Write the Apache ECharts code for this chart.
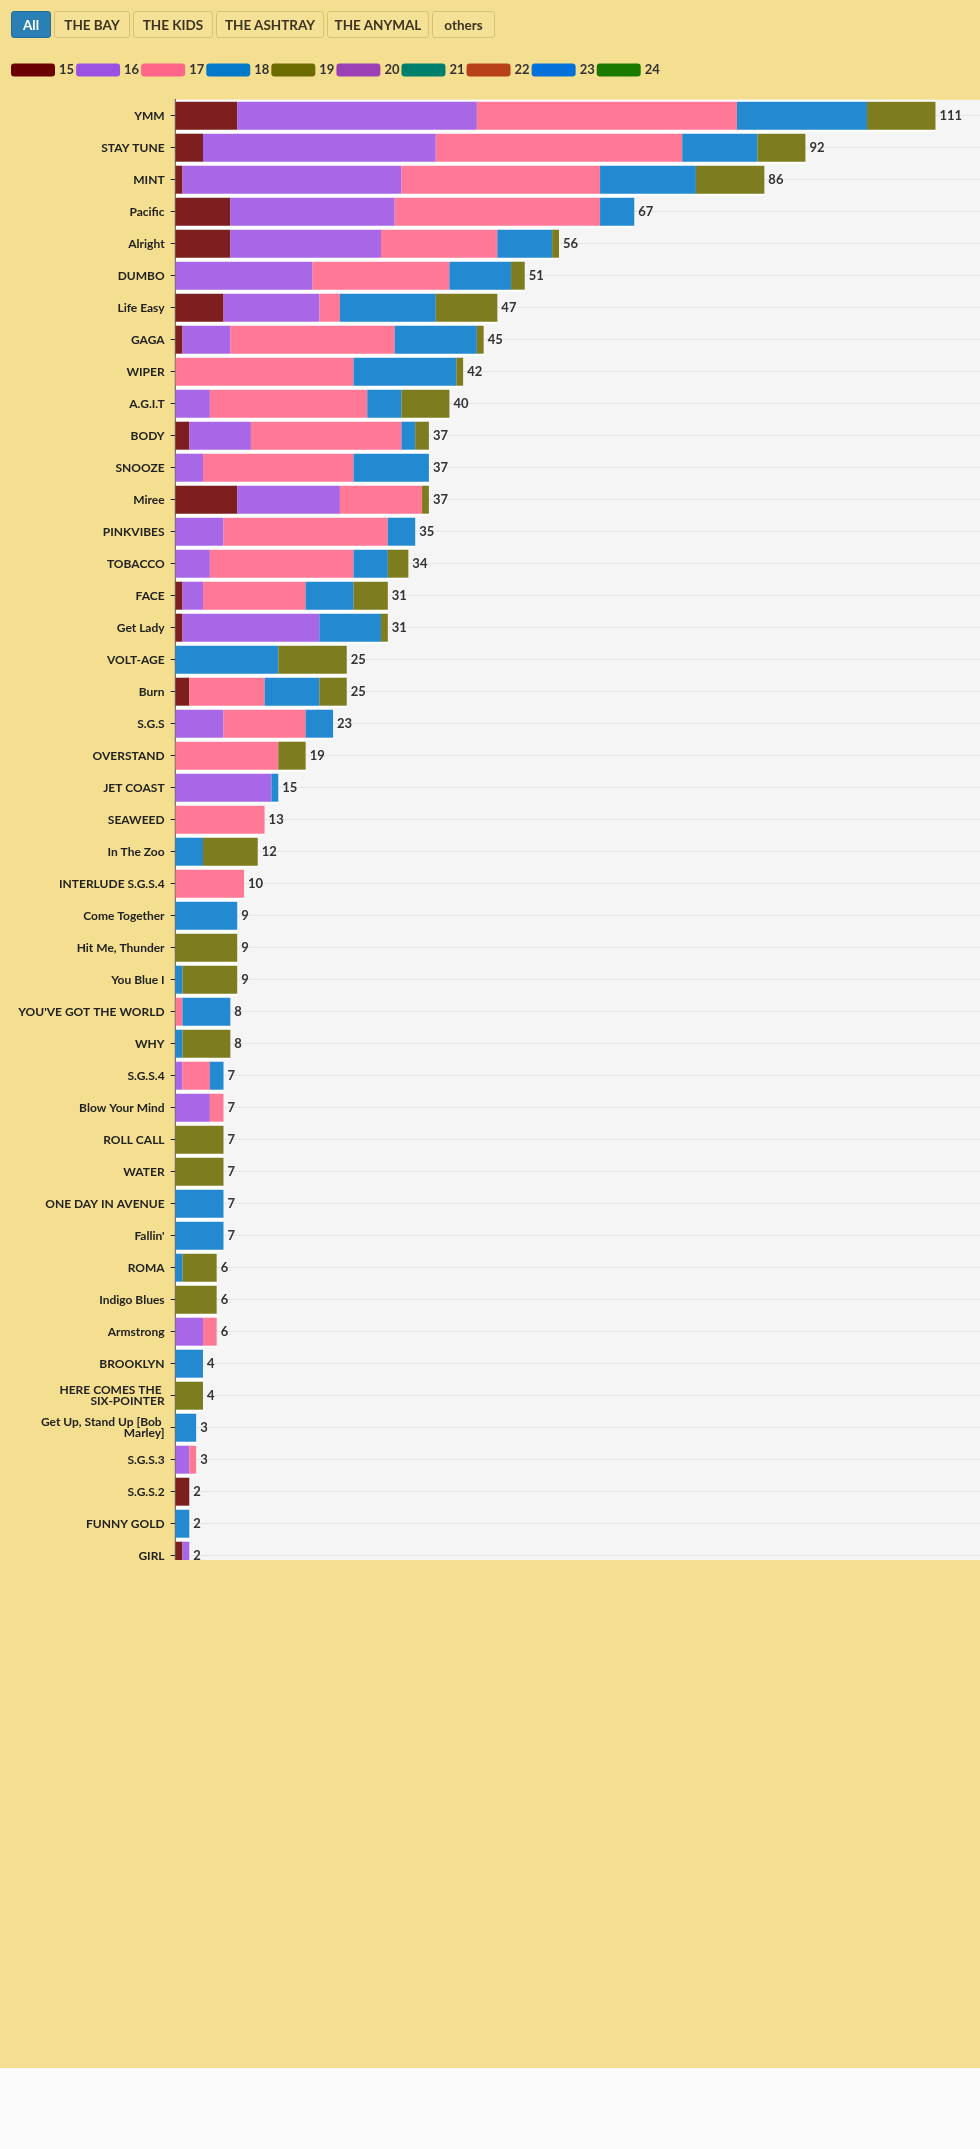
<!DOCTYPE html>
<html>
<head>
<meta charset="utf-8">
<script src="https://cdn.jsdelivr.net/npm/echarts@6/dist/echarts.min.js"></script>
<style>
	body { margin: 0; background: #fafafa; }
	#page { position: relative; width: 980px; height: 2068px; background: #f4de90; }
	#chart { position: absolute; left: 0; top: 0; width: 980px; height: 1560px; }
	#btns { position: absolute; left: 11px; top: 11px; font-size: 0; }
	.btn {
		display: inline-flex; align-items: center; justify-content: center;
		box-sizing: border-box; height: 27px;
		margin-right: 3px; border: 1px solid #d8c27a; border-radius: 3px;
		background: #f5e196; color: #3b3222;
		font: bold 13.5px Lato, sans-serif;
	}
	.btn.on { background: #2a80b5; border-color: #236d9c; color: #fff; }
</style>
</head>
<body>
<div id="page">
	<div id="chart"></div>
	<div id="btns">
		<span class="btn on" style="width:40px">All</span><span class="btn" style="width:76px">THE BAY</span><span class="btn" style="width:80px">THE KIDS</span><span class="btn" style="width:108px">THE ASHTRAY</span><span class="btn" style="width:102px">THE ANYMAL</span><span class="btn" style="width:63px">others</span>
	</div>
</div>
<script>
var songs = ['YMM','STAY TUNE','MINT','Pacific','Alright','DUMBO','Life Easy','GAGA','WIPER','A.G.I.T',
	'BODY','SNOOZE','Miree','PINKVIBES','TOBACCO','FACE','Get Lady','VOLT-AGE','Burn','S.G.S',
	'OVERSTAND','JET COAST','SEAWEED','In The Zoo','INTERLUDE S.G.S.4','Come Together','Hit Me, Thunder','You Blue I',"YOU'VE GOT THE WORLD",'WHY',
	'S.G.S.4','Blow Your Mind','ROLL CALL','WATER','ONE DAY IN AVENUE',"Fallin'",'ROMA','Indigo Blues','Armstrong','BROOKLYN',
	'HERE COMES THE SIX-POINTER','Get Up, Stand Up [Bob Marley]','S.G.S.3','S.G.S.2','FUNNY GOLD','GIRL'];

var years = ['15','16','17','18','19','20','21','22','23','24'];
var yearColors = ['#6b0000','#9b52e2','#ff6687','#0479c9','#6b6b00','#9c40b6','#00806c','#b8411a','#0470da','#1a7a00'];

var v15 = [9,4,1,8,8,0,7,1,0,0, 2,0,9,0,0,1,1,0,2,0, 0,0,0,0,0,0,0,0,0,0, 0,0,0,0,0,0,0,0,0,0, 0,0,0,2,0,1];
var v16 = [35,34,32,24,22,20,14,7,0,5, 9,4,15,7,5,3,20,0,0,7, 0,14,0,0,0,0,0,0,0,0, 1,5,0,0,0,0,0,0,4,0, 0,0,2,0,0,1];
var v17 = [38,36,29,30,17,20,3,24,26,23, 22,22,12,24,21,15,0,0,11,12, 15,0,13,0,10,0,0,0,1,0, 4,2,0,0,0,0,0,0,2,0, 0,0,1,0,0,0];
var v18 = [19,11,14,5,8,9,14,12,15,5, 2,11,0,4,5,7,9,15,8,4, 0,1,0,4,0,9,0,1,7,1, 2,0,0,0,7,7,1,0,0,4, 0,3,0,0,2,0];
var v19 = [10,7,10,0,1,2,9,1,1,7, 2,0,1,0,3,5,1,10,4,0, 4,0,0,8,0,0,9,8,0,7, 0,0,7,7,0,0,5,6,0,0, 4,0,0,0,0,0];
var v20 = [], v21 = [], v22 = [], v23 = [], v24 = [];

var yearValues = [v15,v16,v17,v18,v19,v20,v21,v22,v23,v24];

var totals = songs.map(function(s, i){
	var t = 0;
	for (var k = 0; k < yearValues.length; k++) {
		t += yearValues[k][i] || 0;
	}
	return t;
});

var chart = echarts.init(document.getElementById('chart'));
var fontFam = 'Lato, sans-serif';

var series = [{
	// white backing bar, also carries the total label
	name: 'total',
	type: 'bar',
	yAxisIndex: 1,
	barCategoryGap: '0%',
	data: totals,
	itemStyle: { color: '#ffffff' },
	silent: true,
	label: {
		show: true, position: 'right', distance: 4,
		color: '#333', fontFamily: fontFam, fontWeight: 'bold', fontSize: 13
	}
}];
years.forEach(function(y, k){
	series.push({
		name: y,
		type: 'bar',
		stack: 'all',
		barWidth: 28,
		data: yearValues[k],
		itemStyle: { color: yearColors[k], opacity: 0.88 }
	});
});

var option = {
	animation: false,
	color: yearColors,
	textStyle: { fontFamily: fontFam },
	legend: {
		data: years,
		left: 11, top: 63.5, padding: 0,
		itemWidth: 44, itemHeight: 13, itemGap: 2,
		icon: 'roundRect',
		itemStyle: { opacity: 1 },
		textStyle: { color: '#333', fontWeight: 'bold', fontSize: 13, fontFamily: fontFam, padding: [0, 0, 0, -1] }
	},
	grid: {
		left: 175.6, right: 0, top: 99.7, bottom: -11.7,
		outerBoundsMode: 'none',
		show: true, backgroundColor: '#f5f5f5', borderWidth: 0
	},
	xAxis: {
		type: 'value', min: 0, max: 117.5, show: false
	},
	yAxis: [{
		type: 'category',
		data: songs,
		inverse: true,
		axisLine: { show: true, lineStyle: { color: '#222', width: 1.3 } },
		axisTick: { show: true, alignWithLabel: true, length: 5, lineStyle: { color: '#222' } },
		splitLine: { show: true, alignWithLabel: true, lineStyle: { color: '#e6e6e6', width: 1 } },
		axisLabel: {
			margin: 11, color: '#222', fontFamily: fontFam, fontWeight: 'bold', fontSize: 12,
			width: 158, overflow: 'break', lineHeight: 11, interval: 0
		}
	}, {
		type: 'category',
		data: songs,
		inverse: true,
		show: false
	}],
	series: series
};
chart.setOption(option);
</script>
</body>
</html>
